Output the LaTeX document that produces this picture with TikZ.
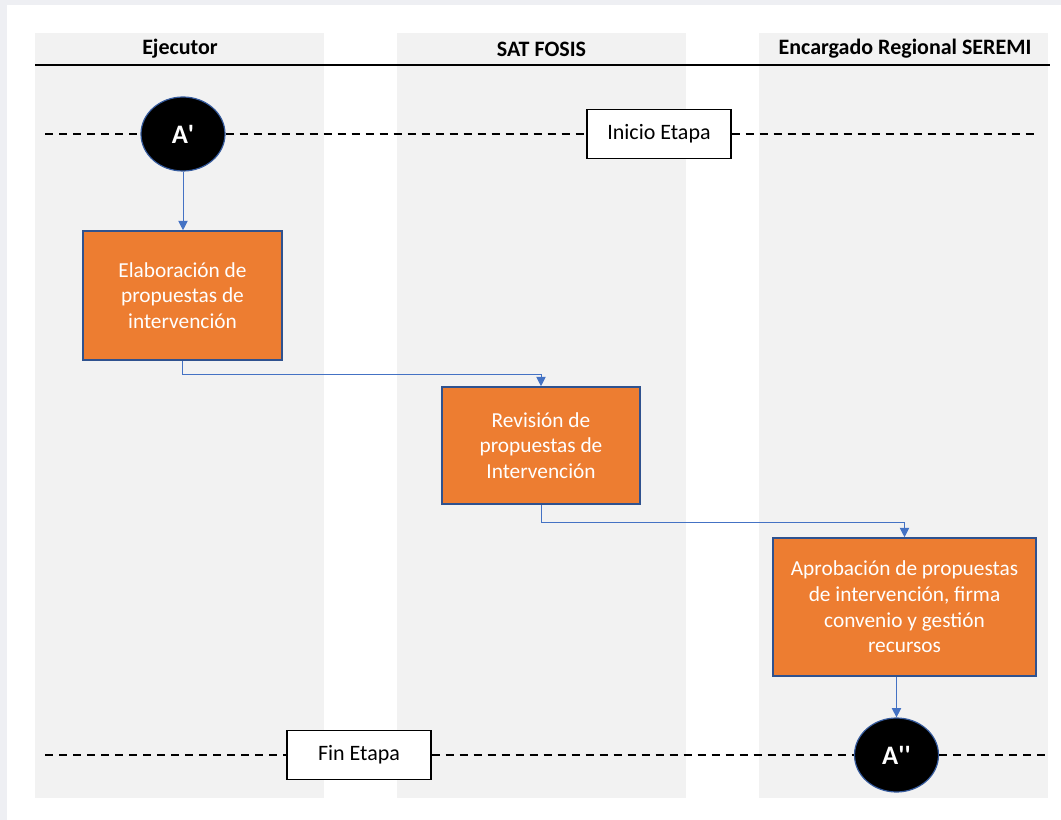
\documentclass[tikz,border=0pt]{standalone}
\usepackage{fontspec}
\setmainfont{Carlito}
\usetikzlibrary{shapes.geometric, arrows.meta, positioning, calc}
\definecolor{lanegray}{RGB}{242, 242, 242}
\definecolor{framegray}{RGB}{238, 239, 243}
\definecolor{boxorange}{RGB}{237, 125, 49}
\definecolor{boxblue}{RGB}{47, 82, 143}
\definecolor{flowblue}{RGB}{68, 114, 196}
\tikzset{
  lane/.style={fill=lanegray},
  lanehead/.style={font=\fontsize{16.5}{19}\selectfont\bfseries},
  taskbox/.style={draw=boxblue, line width=1.2pt, fill=boxorange, text=white,
                  align=center, inner sep=2pt, font=\fontsize{16}{19.2}\selectfont},
  connector/.style={ellipse, draw=flowblue!80!black, line width=0.9pt, fill=black, text=white,
                    minimum width=63pt, minimum height=55.5pt, inner sep=0pt,
                    font=\fontsize{20}{22}\selectfont\bfseries},
  stagebox/.style={draw=black, line width=0.9pt, fill=white, minimum width=108pt,
                   minimum height=36.75pt, font=\fontsize{16.5}{19}\selectfont},
  stageline/.style={dash pattern=on 6pt off 4.5pt, line width=1.2pt},
  flow/.style={draw=flowblue, line width=0.75pt, -{Triangle[width=7pt,length=7pt]}}
}

\begin{document}
\begin{tikzpicture}[x=0.75pt, y=-0.75pt]
    % page and frame
    \fill[framegray] (0,0) rectangle (1061,820);
    \fill[white] (7,5) rectangle (1061,820);
    \useasboundingbox (0,0) rectangle (1061,820);

    % swimlanes
    \fill[lane] (35,33) rectangle (324,798);
    \fill[lane] (397,33) rectangle (686,798);
    \fill[lane] (759,33) rectangle (1048,798);
    \draw[line width=1.5pt] (35,65) -- (1050,65);
    \node[lanehead] (hejecutor) at (180,49) {Ejecutor};
    \node[lanehead] (hsat) at (541.5,49) {SAT FOSIS};
    \node[lanehead] (hseremi) at (905,49) {Encargado Regional SEREMI};

    % stage limits
    \node[connector] (aone) at (183,134) {A\textquotesingle};
    \node[stagebox] (inicio) at (659,134) {Inicio Etapa};
    \node[stagebox] (fin) at (359,755) {Fin Etapa};
    \node[connector] (atwo) at (896.5,755) {A\textquotesingle\textquotesingle};
    \coordinate (topleft) at (45,134);
    \coordinate (topright) at (1038,134);
    \coordinate (botleft) at (45,755);
    \coordinate (botright) at (1050,755);
    \draw[stageline] (topleft) -- (aone) -- (inicio) -- (topright);
    \draw[stageline] (botleft) -- (fin) -- (atwo) -- (botright);

    % tasks
    \node[taskbox, minimum width=149.25pt, minimum height=96.75pt] (elab) at (182.5,295.5)
        {Elaboración de\\propuestas de\\intervención};
    \node[taskbox, minimum width=148.5pt, minimum height=87.75pt] (revision) at (541,445.5)
        {Revisión de\\propuestas de\\Intervención};
    \node[taskbox, minimum width=197.25pt, minimum height=103.5pt] (aprob) at (904.5,607)
        {Aprobación de propuestas\\de intervención, firma\\convenio y gestión\\recursos};

    % flow
    \draw[flow] (aone.south) -- (aone.south |- elab.north);
    \draw[flow] (elab.south) -- ++(0pt,-10pt) -| (revision.north);
    \draw[flow] (revision.south) -- ++(0pt,-13pt) -| (aprob.north);
    \draw[flow] (aprob.south -| atwo) -- (atwo.north);
\end{tikzpicture}
\end{document}
